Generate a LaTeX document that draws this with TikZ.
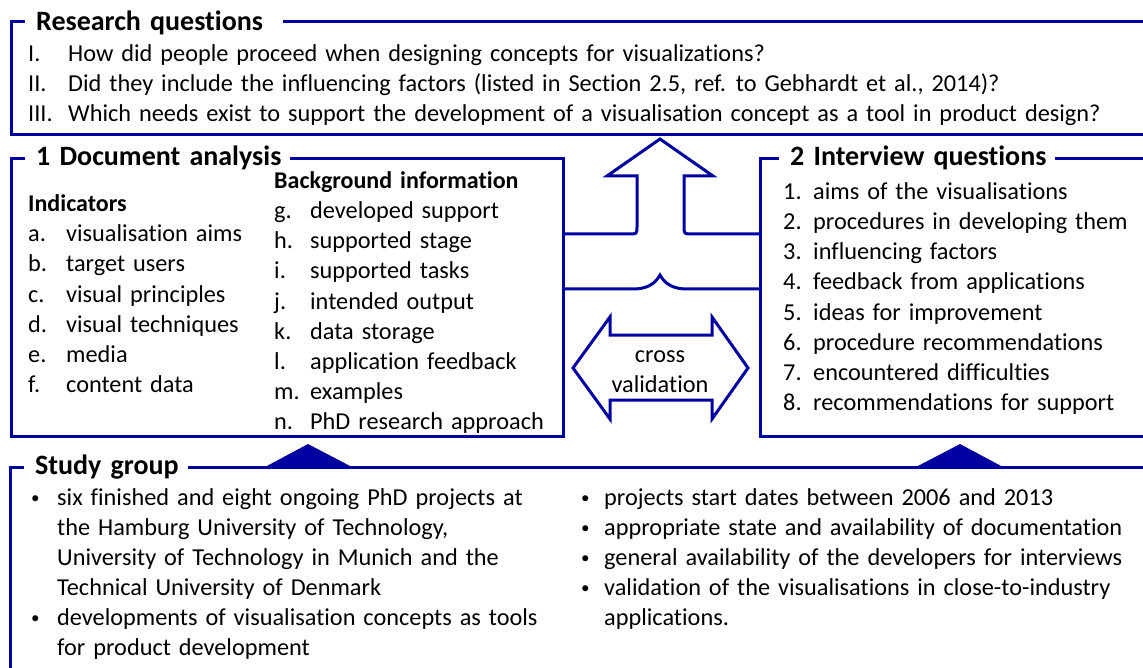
\documentclass[tikz,border=0pt]{standalone}
\usepackage{fontspec}
\setmainfont{Carlito}[WordSpace=1.45, Ligatures=NoCommon]
\definecolor{frameblue}{RGB}{0,0,160}
\tikzset{
  frame/.style={draw=frameblue, line width=3pt},
  mark fill/.style={fill=frameblue},
  body/.style={anchor=base west, inner sep=0pt, font=\fontsize{24.3}{30}\selectfont},
  centred/.style={anchor=base, inner sep=0pt, font=\fontsize{24.3}{30}\selectfont},
  head/.style={anchor=base west, inner sep=0pt, font=\fontsize{28}{34}\selectfont\bfseries},
  sub/.style={anchor=base west, inner sep=0pt, font=\fontsize{24}{30}\selectfont\bfseries},
}
\newcommand\lbl[2]{\makebox[#1pt][l]{#2}}
\newcommand\blt{\raisebox{1.5pt}{\scalebox{0.7}{•}}}
\begin{document}
\begin{tikzpicture}[x=1pt,y=-1pt]
\useasboundingbox (0,0) rectangle (1143,668);
\clip (0,0) rectangle (1143,668);

% ---------- Research questions ----------
\draw[frame] (25,22) -- (11,22) -- (11,135) -- (1160,135);
\draw[frame] (283,22) -- (1160,22);
\node[head] (rqt) at (36,31) {Research questions};
\node[body] (rq1) at (28,62) {\lbl{40}{I.}How did people proceed when designing concepts for visualizations?};
\node[body] (rq2) at (28,92) {\lbl{40}{II.}Did they include the influencing factors (listed in Section 2.5, ref. to Gebhardt et al., 2014)?};
\node[body] (rq3) at (28,122) {\lbl{40}{III.}Which needs exist to support the development of a visualisation concept as a tool in product design?};

% ---------- 1 Document analysis ----------
\draw[frame] (25,158.5) -- (11,158.5) -- (11,436.5) -- (563,436.5) -- (563,158.5) -- (290,158.5);
\node[head] (dat) at (36,166) {1 Document analysis};
\node[sub] (ind) at (28,212) {Indicators};
\node[body] (ia) at (28,242) {\lbl{38}{a.}visualisation aims};
\node[body] (ib) at (28,272) {\lbl{38}{b.}target users};
\node[body] (ic) at (28,302) {\lbl{38}{c.}visual principles};
\node[body] (id) at (28,332) {\lbl{38}{d.}visual techniques};
\node[body] (ie) at (28,362) {\lbl{38}{e.}media};
\node[body] (if) at (28,392) {\lbl{38}{f.}content data};
\node[sub] (bg) at (274,189) {Background information};
\node[body] (bgg) at (274,219) {\lbl{36}{g.}developed support};
\node[body] (bgh) at (274,249) {\lbl{36}{h.}supported stage};
\node[body] (bgi) at (274,279) {\lbl{36}{i.}supported tasks};
\node[body] (bgj) at (274,309) {\lbl{36}{j.}intended output};
\node[body] (bgk) at (274,339) {\lbl{36}{k.}data storage};
\node[body] (bgl) at (274,369) {\lbl{36}{l.}application feedback};
\node[body] (bgm) at (274,399) {\lbl{36}{m.}examples};
\node[body] (bgn) at (274,429) {\lbl{36}{n.}PhD research approach};

% ---------- 2 Interview questions ----------
\draw[frame] (779,158.5) -- (760,158.5) -- (760,436.5) -- (1160,436.5);
\draw[frame] (1055,158.5) -- (1160,158.5);
\node[head] (iqt) at (790,166) {2 Interview questions};
\node[body] (iq1) at (783,200) {\lbl{30}{1.}aims of the visualisations};
\node[body] (iq2) at (783,230) {\lbl{30}{2.}procedures in developing them};
\node[body] (iq3) at (783,260) {\lbl{30}{3.}influencing factors};
\node[body] (iq4) at (783,290) {\lbl{30}{4.}feedback from applications};
\node[body] (iq5) at (783,320) {\lbl{30}{5.}ideas for improvement};
\node[body] (iq6) at (783,350) {\lbl{30}{6.}procedure recommendations};
\node[body] (iq7) at (783,380) {\lbl{30}{7.}encountered difficulties};
\node[body] (iq8) at (783,410) {\lbl{30}{8.}recommendations for support};

% ---------- merging arrow up to the research questions ----------
\draw[frame] (563,234) -- (629,234) .. controls (637,234) .. (637,226) -- (637,176)
  -- (607,176) -- (660,139) -- (713,176) -- (684,176) -- (684,226)
  .. controls (684,234) .. (692,234) -- (760,234);
\draw[frame] (563,289) -- (633,289) .. controls (647,289) and (655,284) .. (660,275)
  .. controls (665,284) and (673,289) .. (687,289) -- (760,289);

% ---------- cross validation double arrow ----------
\draw[frame] (573,368) -- (610,317) -- (610,335) -- (712,335) -- (712,317) -- (748,368)
  -- (712,419) -- (712,400) -- (610,400) -- (610,419) -- cycle;
\node[centred] (xv1) at (660,362) {cross};
\node[centred] (xv2) at (660,392) {validation};

% ---------- Study group ----------
\draw[frame] (24,467) -- (10,467) -- (10,690);
\draw[frame] (188,467) -- (1160,467);
\fill[mark fill] (265,467) -- (308,444) -- (352,467) -- cycle;
\fill[mark fill] (916,467) -- (960,444) -- (1003,467) -- cycle;
\node[head] (sgt) at (35,474) {Study group};
\node[body] (sl1) at (31,505) {\lbl{26}{\blt}six finished and eight ongoing PhD projects at};
\node[body] (sl2) at (57,535) {the Hamburg University of Technology,};
\node[body] (sl3) at (57,565) {University of Technology in Munich and the};
\node[body] (sl4) at (57,595) {Technical University of Denmark};
\node[body] (sl5) at (31,625) {\lbl{26}{\blt}developments of visualisation concepts as tools};
\node[body] (sl6) at (57,655) {for product development};
\node[body] (sr1) at (581,505) {\lbl{23}{\blt}projects start dates between 2006 and 2013};
\node[body] (sr2) at (581,535) {\lbl{23}{\blt}appropriate state and availability of documentation};
\node[body] (sr3) at (581,565) {\lbl{23}{\blt}general availability of the developers for interviews};
\node[body] (sr4) at (581,595) {\lbl{23}{\blt}validation of the visualisations in close-to-industry};
\node[body] (sr5) at (604,625) {applications.};
\end{tikzpicture}
\end{document}
